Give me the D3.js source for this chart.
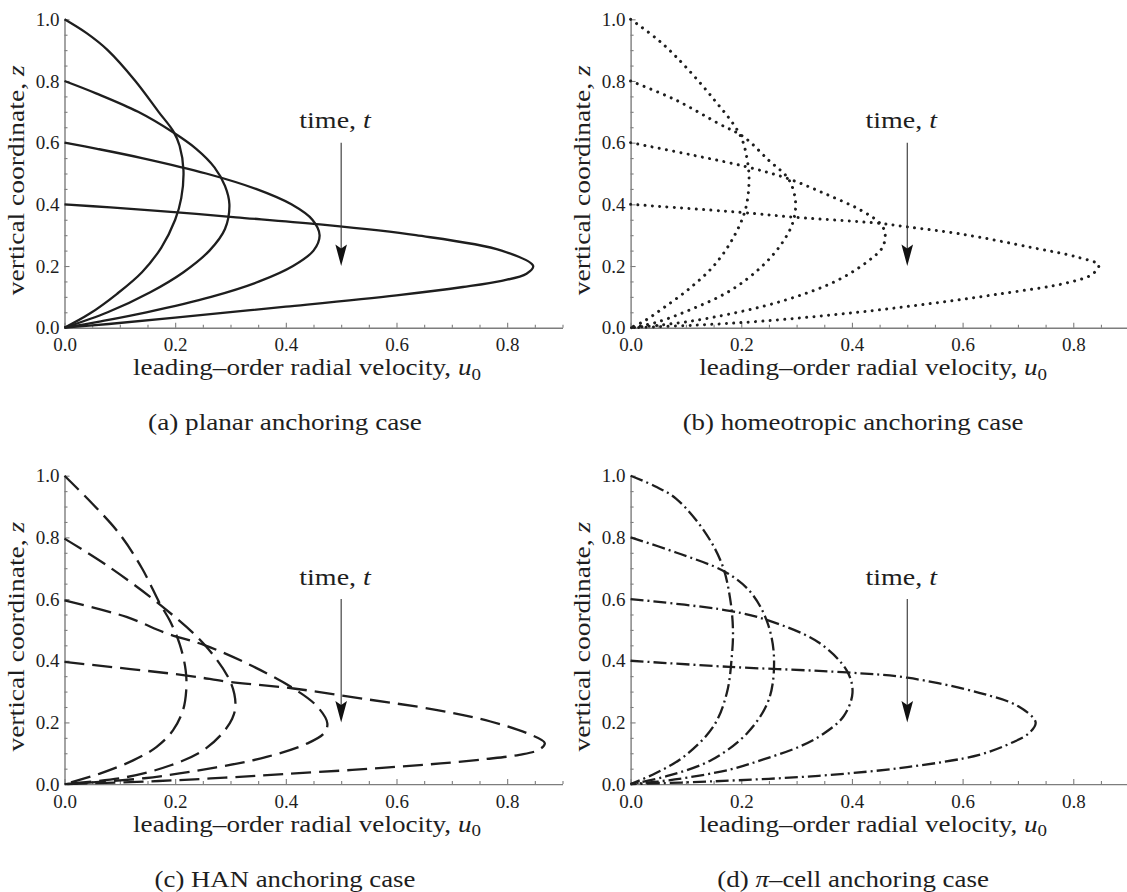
<!DOCTYPE html>
<html>
<head>
<meta charset="utf-8">
<script src="https://cdn.jsdelivr.net/npm/d3@7"></script>
<style>
  body { margin: 0; background: #fff; }
  svg { display: block; }
</style>
</head>
<body>
<div id="chart"></div>
<script>
// velocity profiles u0(z), one curve per time (film height 1.0, 0.8, 0.6, 0.4)
const planar = [
  [[0, 1], [0.04, 0.955], [0.078, 0.9], [0.128, 0.8], [0.17, 0.7], [0.197, 0.636], [0.208, 0.59], [0.215, 0.51], [0.211, 0.42], [0.2, 0.35], [0.175, 0.26], [0.14, 0.18], [0.095, 0.11], [0.045, 0.045], [0, 0]],
  [[0, 0.8], [0.057, 0.76], [0.133, 0.7], [0.194, 0.636], [0.238, 0.58], [0.271, 0.52], [0.29, 0.46], [0.298, 0.4], [0.29, 0.32], [0.262, 0.25], [0.215, 0.18], [0.155, 0.115], [0.078, 0.05], [0, 0]],
  [[0, 0.6], [0.059, 0.58], [0.14, 0.55], [0.256, 0.5], [0.346, 0.45], [0.41, 0.4], [0.448, 0.35], [0.461, 0.3], [0.45, 0.25], [0.413, 0.2], [0.352, 0.15], [0.265, 0.1], [0.148, 0.05], [0.063, 0.02], [0, 0]],
  [[0, 0.4], [0.083, 0.39], [0.198, 0.375], [0.31, 0.358], [0.455, 0.336], [0.635, 0.3], [0.79, 0.25], [0.847, 0.2], [0.835, 0.175], [0.79, 0.152], [0.72, 0.132], [0.6, 0.105], [0.4, 0.068], [0.2, 0.033], [0.08, 0.012], [0, 0]]
]

const homeotropic = [
  [[0, 1], [0.045, 0.94], [0.082, 0.879], [0.147, 0.748], [0.198, 0.624], [0.211, 0.542], [0.214, 0.47], [0.207, 0.38], [0.185, 0.29], [0.15, 0.2], [0.105, 0.125], [0.06, 0.065], [0.025, 0.022], [0, 0]],
  [[0, 0.8], [0.082, 0.738], [0.159, 0.662], [0.205, 0.618], [0.25, 0.542], [0.285, 0.483], [0.298, 0.41], [0.293, 0.34], [0.272, 0.27], [0.235, 0.195], [0.179, 0.119], [0.102, 0.054], [0.044, 0.016], [0, 0]],
  [[0, 0.6], [0.114, 0.559], [0.211, 0.521], [0.285, 0.483], [0.352, 0.434], [0.417, 0.38], [0.452, 0.336], [0.46, 0.304], [0.455, 0.26], [0.43, 0.217], [0.372, 0.152], [0.275, 0.087], [0.147, 0.033], [0.057, 0.009], [0, 0]],
  [[0, 0.4], [0.198, 0.374], [0.298, 0.358], [0.452, 0.338], [0.5, 0.327], [0.597, 0.304], [0.725, 0.26], [0.809, 0.228], [0.846, 0.203], [0.835, 0.174], [0.79, 0.146], [0.661, 0.108], [0.532, 0.076], [0.404, 0.049], [0.243, 0.022], [0.114, 0.008], [0, 0]]
]

const han = [
  [[0, 1], [0.05, 0.91], [0.1, 0.81], [0.14, 0.7], [0.1725, 0.585], [0.19, 0.531], [0.208, 0.455], [0.219, 0.369], [0.22, 0.304], [0.214, 0.239], [0.196, 0.174], [0.166, 0.12], [0.124, 0.077], [0.064, 0.034], [0, 0]],
  [[0, 0.796], [0.08, 0.705], [0.178, 0.574], [0.254, 0.45], [0.3, 0.331], [0.309, 0.255], [0.303, 0.212], [0.282, 0.158], [0.246, 0.104], [0.192, 0.061], [0.113, 0.023], [0, 0]],
  [[0, 0.596], [0.112, 0.542], [0.186, 0.488], [0.254, 0.45], [0.33, 0.391], [0.414, 0.31], [0.457, 0.251], [0.475, 0.197], [0.469, 0.165], [0.439, 0.132], [0.367, 0.089], [0.264, 0.051], [0.144, 0.019], [0, 0]],
  [[0, 0.396], [0.221, 0.352], [0.3, 0.331], [0.414, 0.31], [0.535, 0.278], [0.671, 0.241], [0.77, 0.203], [0.836, 0.165], [0.868, 0.133], [0.858, 0.112], [0.822, 0.095], [0.76, 0.081], [0.68, 0.067], [0.6, 0.056], [0.52, 0.046], [0.4, 0.033], [0.29, 0.021], [0.17, 0.01], [0, 0]]
]

const piCell = [
  [[0, 1], [0.045, 0.965], [0.082, 0.926], [0.134, 0.818], [0.166, 0.709], [0.18, 0.6], [0.185, 0.5], [0.183, 0.416], [0.174, 0.296], [0.15, 0.188], [0.097, 0.09], [0.045, 0.035], [0, 0]],
  [[0, 0.8], [0.082, 0.751], [0.172, 0.687], [0.217, 0.622], [0.246, 0.53], [0.259, 0.416], [0.25, 0.275], [0.211, 0.166], [0.147, 0.079], [0.07, 0.028], [0, 0]],
  [[0, 0.6], [0.179, 0.562], [0.25, 0.53], [0.34, 0.459], [0.391, 0.367], [0.401, 0.296], [0.385, 0.22], [0.35, 0.165], [0.307, 0.123], [0.24, 0.08], [0.179, 0.047], [0.08, 0.015], [0, 0]],
  [[0, 0.4], [0.179, 0.38], [0.391, 0.362], [0.5, 0.345], [0.63, 0.296], [0.7, 0.253], [0.732, 0.2], [0.72, 0.165], [0.69, 0.135], [0.63, 0.095], [0.5, 0.055], [0.34, 0.027], [0.15, 0.009], [0, 0]]
]

const xMajor = [0, 0.2, 0.4, 0.6, 0.8]
const xMinor = [0.05, 0.1, 0.15, 0.25, 0.3, 0.35, 0.45, 0.5, 0.55, 0.65, 0.7, 0.75, 0.85, 0.9]
const yMajor = [0, 0.2, 0.4, 0.6, 0.8, 1.0]
const yMinor = [0.05, 0.1, 0.15, 0.25, 0.3, 0.35, 0.45, 0.5, 0.55, 0.65, 0.7, 0.75, 0.85, 0.9, 0.95]
const captions = ['(a) planar anchoring case', '(b) homeotropic anchoring case', '(c) HAN anchoring case', '(d) \u03c0\u2013cell anchoring case']
const arrowFrom = 0.6, arrowTo = 0.2, arrowU = 0.5

// layout
const W = 1127, H = 892
const pw = 498, ph = 308.4
const panels = [
  { data: planar, x0: 64.5, y0: 19.3, dash: null, cap: captions[0], capW: 274 },
  { data: homeotropic, x0: 630.6, y0: 19.3, dash: 'dot', cap: captions[1], capW: 341 },
  { data: han, x0: 64.5, y0: 475.7, dash: '20 8', cap: captions[2], capW: 261 },
  { data: piCell, x0: 630.6, y0: 475.7, dash: '13 4 2 4', cap: captions[3], capW: 272 }
]

const svg = d3.select('#chart').append('svg').attr('width', W).attr('height', H)
svg.append('rect').attr('width', W).attr('height', H).attr('fill', '#fff')

const FONT = "'Liberation Serif', serif"
const AXIS = '#7d7d7d'
const INK = '#1e1e1e'

const x = d3.scaleLinear().domain([0, 0.9]).range([0, pw])
const y = d3.scaleLinear().domain([0, 1]).range([ph, 0])

// text made of plain / italic / subscript parts, stretched to the target width
function fitText(g, parts, size, width, cx, cy, rot) {
  const t = g.append('text')
    .attr('font-family', FONT).attr('font-size', size)
    .attr('text-anchor', 'middle').attr('fill', INK)
  parts.forEach(p => {
    const s = t.append('tspan').text(p.t)
    if (p.it) s.attr('font-style', 'italic')
    if (p.sub) s.attr('font-size', size * 0.7).attr('dy', size * 0.2)
  })
  const w = t.node().getComputedTextLength()
  t.attr('transform', `translate(${cx},${cy})${rot ? ' rotate(-90)' : ''} scale(${width / w},1)`)
  return t
}

const line = d3.line()
  .x(d => x(d[0]))
  .y(d => y(d[1]))
  .curve(d3.curveCatmullRom.alpha(0.5))

panels.forEach(p => {
  const g = svg.append('g').attr('transform', `translate(${p.x0},${p.y0})`)

  // x axis, ticks point inwards
  const gx = g.append('g').attr('transform', `translate(0,${ph})`)
  gx.call(d3.axisBottom(x).tickValues(xMinor).tickSize(-3).tickSizeOuter(0).tickFormat(''))
  gx.select('.domain').remove()
  const gx2 = g.append('g').attr('transform', `translate(0,${ph})`)
  gx2.call(d3.axisBottom(x).tickValues(xMajor).tickSize(-5).tickSizeOuter(0).tickPadding(10).tickFormat(d3.format('.1f')))

  // y axis
  const gy = g.append('g')
  gy.call(d3.axisLeft(y).tickValues(yMinor).tickSize(-3).tickSizeOuter(0).tickFormat(''))
  gy.select('.domain').remove()
  const gy2 = g.append('g')
  gy2.call(d3.axisLeft(y).tickValues(yMajor).tickSize(-5).tickSizeOuter(0).tickPadding(5).tickFormat(d3.format('.1f')))

  ;[gx, gx2, gy, gy2].forEach(a => {
    a.attr('font-family', FONT).attr('font-size', 19)
    a.selectAll('line').attr('stroke', AXIS).attr('stroke-width', 1.1)
    a.selectAll('.domain').attr('stroke', AXIS).attr('stroke-width', 1.4)
    a.selectAll('text').attr('fill', INK)
  })

  // curves
  const paths = g.append('g').selectAll('path')
    .data(p.data)
    .join('path')
    .attr('d', line)
    .attr('fill', 'none')
    .attr('stroke', INK)
  if (p.dash === 'dot') {
    paths.attr('stroke-width', 3).attr('stroke-linecap', 'round').attr('stroke-dasharray', '0.01 7.3')
  } else {
    paths.attr('stroke-width', 2.3)
    if (p.dash) paths.attr('stroke-dasharray', p.dash)
  }

  // time arrow
  const ax = x(arrowU)
  const tip = y(arrowTo)
  g.append('line')
    .attr('x1', ax).attr('x2', ax)
    .attr('y1', y(arrowFrom)).attr('y2', tip - 12)
    .attr('stroke', '#333').attr('stroke-width', 1.1)
  g.append('path')
    .attr('d', `M${ax},${tip} L${ax - 5.8},${tip - 21.5} L${ax},${tip - 17.5} L${ax + 5.8},${tip - 21.5} Z`)
    .attr('fill', '#111')
  fitText(g, [{ t: 'time, ' }, { t: 't', it: true }], 24, 71.6, x(0.489), y(0.647), false)

  // axis titles
  fitText(g, [{ t: 'leading\u2013order radial velocity, ' }, { t: 'u', it: true }, { t: '0', sub: true }], 24, 348, 242.5, ph + 47.5, false)
  fitText(g, [{ t: 'vertical coordinate, ' }, { t: 'z', it: true }], 24, 230, -41, 161, true)

  // caption
  const capParts = p.cap.includes('\u03c0')
    ? [{ t: '(d) ' }, { t: '\u03c0', it: true }, { t: '\u2013cell anchoring case' }]
    : [{ t: p.cap }]
  fitText(g, capParts, 24, p.capW, p.x0 < 300 ? 220.5 : 222.5, ph + 102.5, false)
})
</script>
</body>
</html>
